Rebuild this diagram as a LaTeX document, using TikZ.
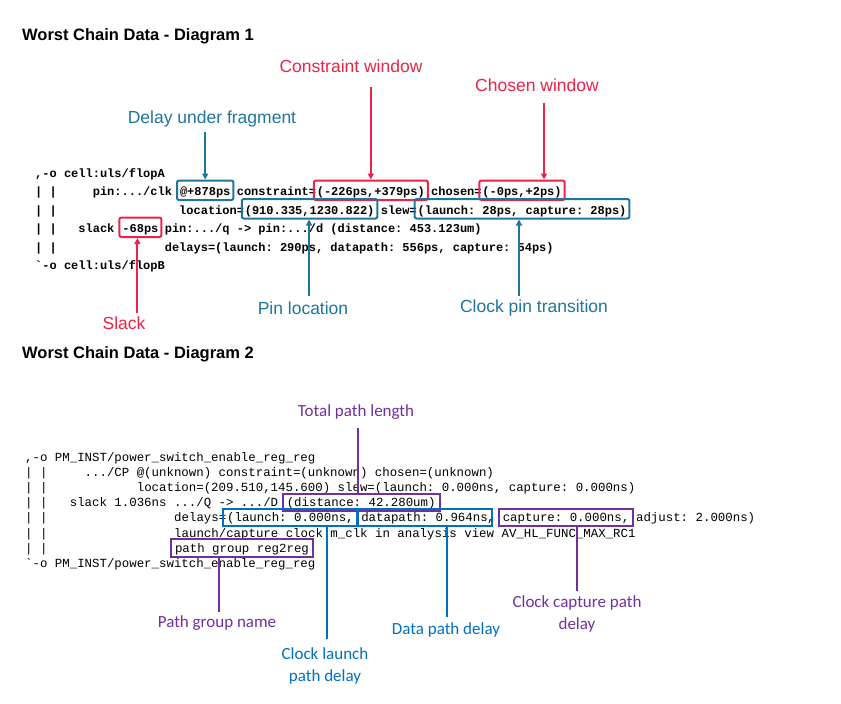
\documentclass[tikz,border=0pt]{standalone}
\usepackage{fontspec}
\setmainfont{Liberation Sans}
\newfontfamily\codefont{Liberation Mono}
\newfontfamily\calfont{Carlito}
\usetikzlibrary{arrows.meta, positioning, calc}
\definecolor{wred}{RGB}{235,35,70}
\definecolor{wteal}{RGB}{30,118,155}
\definecolor{wpurple}{RGB}{112,48,160}
\definecolor{wblue}{RGB}{0,112,192}

\tikzset{
  title/.style={anchor=base west, inner sep=0pt, font=\bfseries\fontsize{16.5}{20}\selectfont},
  codeA/.style={anchor=base west, inner sep=0pt, font=\codefont\frenchspacing\bfseries\fontsize{12}{14}\selectfont},
  codeB/.style={anchor=base west, inner sep=0pt, font=\codefont\frenchspacing\fontsize{12.4}{15}\selectfont},
  boxA/.style={codeA, draw=#1, line width=2pt, rounded corners=2pt, inner xsep=3pt, inner ysep=0pt, text height=15pt, text depth=4.5pt, xshift=-3pt},
  boxB/.style={codeB, draw=#1, line width=2pt, inner xsep=4pt, inner ysep=0pt, text height=13pt, text depth=4.5pt, xshift=-4pt},
  noteA/.style={text=#1, inner sep=1pt, font=\fontsize{17.5}{21}\selectfont},
  noteB/.style={text=#1, inner sep=1pt, align=center, font=\calfont\fontsize{17}{22}\selectfont},
  arrA/.style={draw=#1, line width=2pt, -{Triangle[length=6pt,width=6pt]}},
  lineB/.style={draw=#1, line width=2pt},
}

\begin{document}
\begin{tikzpicture}[x=1pt, y=-1pt]
  \useasboundingbox (0,0) rectangle (841,704);
  \node[title] (t1) at (22,40) {Worst Chain Data - Diagram 1};
  \node[title] (t2) at (22,358) {Worst Chain Data - Diagram 2};

  % diagram 1
  \node[codeA] (a1) at (35,177) {,-o cell:uls/flopA};
  \node[codeA] (a2) at (35,195.5) {| |~~~~~pin:.../clk};
  \node[boxA=wteal] (dly) at (179,195.5) {@+878ps};
  \node[codeA] (a2b) at (236.6,195.5) {constraint=};
  \node[boxA=wred] (cwin) at (315.8,195.5) {(-226ps,+379ps)};
  \node[codeA] (a2c) at (431,195.5) {chosen=};
  \node[boxA=wred] (chwin) at (481.4,195.5) {(-0ps,+2ps)};
  \node[codeA] (a3) at (35,214) {| |};
  \node[codeA] (a3b) at (179,214) {location=};
  \node[boxA=wteal] (ploc) at (243.8,214) {(910.335,1230.822)};
  \node[codeA] (a3c) at (380.6,214) {slew=};
  \node[boxA=wteal] (slew) at (416.6,214) {(launch: 28ps, capture: 28ps)};
  \node[codeA] (a4) at (35,232.5) {| |~~~slack};
  \node[boxA=wred] (slk) at (121.4,232.5) {-68ps};
  \node[codeA] (a4b) at (164.6,232.5) {pin:.../q -> pin:.../d (distance: 453.123um)};
  \node[codeA] (a5) at (35,251) {| |};
  \node[codeA] (a5b) at (164.6,251) {delays=(launch: 290ps, datapath: 556ps, capture: 54ps)};
  \node[codeA] (a6) at (35,269.5) {`-o cell:uls/flopB};

  \node[noteA=wteal] (dlylbl) at (212,119) {Delay under fragment};
  \node[noteA=wred] (cwlbl) at (351,66) {Constraint window};
  \node[noteA=wred] (chlbl) at (537,85) {Chosen window};
  \node[noteA=wred] (slklbl) at (124,323) {Slack};
  \node[noteA=wteal] (ploclbl) at (303,308) {Pin location};
  \node[noteA=wteal] (slewlbl) at (534,308) {Clock pin transition};

  \draw[arrA=wteal, shorten <=4pt] (dlylbl.south -| dly.north) -- (dly.north);
  \draw[arrA=wred, shorten <=13pt] (cwlbl.south -| cwin.north) -- (cwin.north);
  \draw[arrA=wred, shorten <=10pt] ([xshift=22pt]chwin.north |- chlbl.south) -- ([xshift=22pt]chwin.north);
  \draw[arrA=wred, shorten <=2pt] ([xshift=-3pt]slk.south |- slklbl.north) -- ([xshift=-3pt]slk.south);
  \draw[arrA=wteal, shorten <=4pt] ([xshift=-0.5pt]ploc.south |- ploclbl.north) -- ([xshift=-0.5pt]ploc.south);
  \draw[arrA=wteal, shorten <=3pt] ([xshift=-3pt]slew.south |- slewlbl.north) -- ([xshift=-3pt]slew.south);

  % diagram 2
  \node[codeB] (b1) at (25,461) {,-o PM\_INST/power\_switch\_enable\_reg\_reg};
  \node[codeB] (b2) at (25,476.2) {| |~~~~~.../CP @(unknown) constraint=(unknown) chosen=(unknown)};
  \node[codeB] (b3) at (25,491.4) {| |~~~~~~~~~~~~location=(209.510,145.600) slew=(launch: 0.000ns, capture: 0.000ns)};
  \node[codeB] (b4) at (25,506.6) {| |~~~slack 1.036ns .../Q -> .../D};
  \node[boxB=wpurple] (tpl) at (285.75,506.6) {(distance: 42.280um)};
  \node[codeB] (b5) at (25,521.8) {| |};
  \node[codeB] (b5b) at (174,521.8) {delays=};
  \node[boxB=wblue] (lnch) at (226.15,521.8) {(launch: 0.000ns,};
  \node[boxB=wblue] (dpath) at (360.25,521.8) {datapath: 0.964ns};
  \node[codeB] (b5c) at (486.9,521.8) {,};
  \node[boxB=wpurple] (capt) at (501.8,521.8) {capture: 0.000ns,};
  \node[codeB] (b5d) at (635.9,521.8) {adjust: 2.000ns)};
  \node[codeB] (b6) at (25,537) {| |};
  \node[codeB] (b6b) at (174,537) {launch/capture clock m\_clk in analysis view AV\_HL\_FUNC\_MAX\_RC1};
  \node[codeB] (b7) at (25,552.2) {| |};
  \node[boxB=wpurple] (pgrp) at (174,552.2) {path group reg2reg};
  \node[codeB] (b8) at (25,567.4) {`-o PM\_INST/power\_switch\_enable\_reg\_reg};

  \node[noteB=wpurple] (tpllbl) at (356,412) {Total path length};
  \node[noteB=wpurple] (pgrplbl) at (217,623) {Path group name};
  \node[noteB=wblue] (lnchlbl) at (325,666) {Clock launch\\path delay};
  \node[noteB=wblue] (dpathlbl) at (446,630) {Data path delay};
  \node[noteB=wpurple] (captlbl) at (577,614) {Clock capture path\\delay};

  \draw[lineB=wpurple, shorten <=7pt] ([xshift=-3pt]tpl.north |- tpllbl.south) -- ([xshift=-3pt]tpl.north);
  \draw[lineB=wpurple, shorten >=2pt] ([xshift=-23pt]pgrp.south) -- ([xshift=-23pt]pgrp.south |- pgrplbl.north);
  \draw[lineB=wblue, shorten >=8pt] ([xshift=36.4pt]lnch.south) -- ([xshift=36.4pt]lnch.south |- lnchlbl.north);
  \draw[lineB=wblue, shorten >=5pt] ([xshift=22pt]dpath.south) -- ([xshift=22pt]dpath.south |- dpathlbl.north);
  \draw[lineB=wpurple, shorten >=4pt] ([xshift=11pt]capt.south) -- ([xshift=11pt]capt.south |- captlbl.north);
\end{tikzpicture}
\end{document}
